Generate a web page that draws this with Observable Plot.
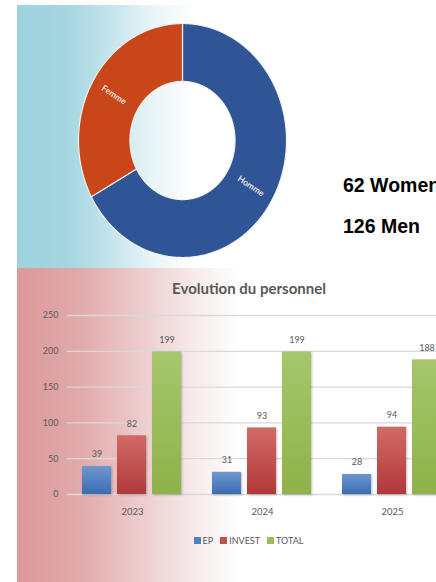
<!DOCTYPE html>
<html><head><meta charset="utf-8">
<script src="https://cdn.jsdelivr.net/npm/d3@7"></script>
<script src="https://cdn.jsdelivr.net/npm/@observablehq/plot@0.6"></script>
<style>
html,body{margin:0;padding:0;background:#fff;}
body{width:436px;height:582px;overflow:hidden;position:relative;font-family:Lato,"Open Sans",sans-serif;}
#top{position:absolute;left:17px;top:5px;width:419px;height:263px;
 background:linear-gradient(to right,#9ed2df 0%,#a6d6e1 12%,#c3e4ec 22%,#ebf6f8 33%,#ffffff 43%);}
#bottom{position:absolute;left:17px;top:268px;width:419px;height:314px;
 background:linear-gradient(to right,#dc999b 0%,#e1a9ab 15%,#edd0d1 31%,#f8ecec 43%,#ffffff 53%);}
.abs{position:absolute;}
#counts div{position:absolute;left:343px;font-family:"Liberation Sans",Arial,sans-serif;font-weight:bold;font-size:19.5px;color:#000;white-space:nowrap;line-height:1;}
#title{position:absolute;left:0;width:498px;text-align:center;top:281px;font-family:Lato,sans-serif;font-weight:bold;font-size:15px;line-height:1;color:#595959;}
#legend{position:absolute;left:0;width:504px;top:524px;display:flex;justify-content:center;}
#legend span{margin-right:7px !important;}
#legend span > svg{margin-right:2px !important;}
#bars svg, #donut svg{max-width:none !important;}
#bars rect{filter:drop-shadow(1px 1px 1px rgba(0,0,0,0.25));}
</style></head><body>
<div id="top"></div><div id="bottom"></div>
<div id="donut" class="abs" style="left:0;top:0"></div>
<div id="counts"></div>
<div id="title"></div>
<div id="bars" class="abs" style="left:0;top:268px;width:470px"></div>
<div id="legend"></div>
<script>
// ---- data ----
const genders = ["Homme", "Femme"];
const genderCounts = [126, 62];
const countLabels = ["62 Women", "126 Men"];
const chartTitle = "Evolution du personnel";
const years = ["2023", "2024", "2025"];
const seriesNames = ["EP", "INVEST", "TOTAL"];
const ep = [39, 31, 28];
const invest = [82, 93, 94];
const total = [199, 199, 188];
const yTicks = [0, 50, 100, 150, 200, 250];

// ---- donut ----
const pie = d3.pie().sort(null).value(d => d.count);
const arcs = pie(genders.map((g, i) => ({gender: g, count: genderCounts[i]})));
const inner = 0.505;
const ringPts = [];
for (const a of arcs) {
  const n = Math.max(2, Math.ceil((a.endAngle - a.startAngle) / 0.01));
  for (let k = 0; k <= n; k++) {
    const t = a.startAngle + (a.endAngle - a.startAngle) * k / n;
    ringPts.push({gender: a.data.gender, x: Math.sin(t), y: Math.cos(t)});
  }
  for (let k = n; k >= 0; k--) {
    const t = a.startAngle + (a.endAngle - a.startAngle) * k / n;
    ringPts.push({gender: a.data.gender, x: inner * Math.sin(t), y: inner * Math.cos(t)});
  }
}
const xR = [78, 286], yR = [257, 23];
const sx = (xR[1] - xR[0]) / 2, sy = (yR[0] - yR[1]) / 2;
const labelPts = arcs.map(a => {
  const m = (a.startAngle + a.endAngle) / 2, r = 0.765;
  const x = r * Math.sin(m), y = r * Math.cos(m);
  let rot = Math.atan2(-y * sy, x * sx) * 180 / Math.PI;
  if (rot > 90) rot -= 180; if (rot < -90) rot += 180;
  return {gender: a.data.gender, x, y, rot};
});
const donut = Plot.plot({
  width: 436, height: 268, margin: 0,
  style: {background: "transparent", overflow: "visible", maxWidth: "none"},
  x: {domain: [-1, 1], range: xR, axis: null},
  y: {domain: [-1, 1], range: yR, axis: null},
  color: {domain: ["Homme", "Femme"], range: ["#2f5597", "#c9461a"]},
  marks: [
    Plot.line(ringPts, {x: "x", y: "y", z: "gender", fill: "gender", stroke: "#f2f2f2", strokeWidth: 1.2, curve: "linear-closed"}),
    Plot.text(labelPts, {x: "x", y: "y", text: "gender", rotate: "rot", fill: "#fdf2ee", fontSize: 8.5, fontFamily: "Lato", fontWeight: 600})
  ]
});
document.getElementById("donut").append(donut);

const counts = document.getElementById("counts");
countLabels.forEach((t, i) => {
  const d = document.createElement("div");
  d.textContent = t;
  d.style.top = (i === 0 ? 176 : 217) + "px";
  counts.append(d);
});
document.getElementById("title").textContent = chartTitle;

// ---- bars ----
const seriesVals = {EP: ep, INVEST: invest, TOTAL: total};
const rows = years.flatMap((yr, i) => seriesNames.map(s => ({year: yr, series: s, value: seriesVals[s][i]})));
const grads = {EP: ["#6e97d0", "#3b6cb2"], INVEST: ["#d06b66", "#b2383a"], TOTAL: ["#a6c66b", "#8fb24b"]};
const flat = ["#4f81bd", "#c0504d", "#9bbb59"];
const bars = Plot.plot({
  width: 470, height: 314,
  marginLeft: 66, marginRight: 12, marginTop: 47, marginBottom: 88,
  style: {background: "transparent", color: "#595959", fontFamily: "Lato", maxWidth: "none"},
  fx: {domain: years, padding: 0, label: null},
  x: {domain: seriesNames, paddingInner: 0.167, paddingOuter: 0.39, axis: null},
  y: {domain: [0, 250], label: null},
  marks: [
    Plot.ruleY(yTicks, {stroke: "#d9d9d9", strokeWidth: 1.3}),
    Plot.axisY({ticks: yTicks, tickSize: 0, tickPadding: 9, fontSize: 9, fill: "#595959", label: null}),
    Plot.axisFx({anchor: "bottom", tickSize: 0, tickPadding: 14, fontSize: 9.5, fill: "#595959", label: null}),
    ...seriesNames.map(s => Plot.barY(rows.filter(r => r.series === s), {fx: "year", x: "series", y: "value", fill: `url(#grad-${s})`})),
    Plot.text(rows, {fx: "year", x: "series", y: "value", text: d => String(d.value), dy: -12, fontSize: 9, fill: "#595959"})
  ]
});
const defs = d3.create("svg:defs");
for (const s of seriesNames) {
  const g = defs.append("linearGradient").attr("id", `grad-${s}`).attr("x1", 0).attr("y1", 0).attr("x2", 0).attr("y2", 1);
  g.append("stop").attr("offset", "0%").attr("stop-color", grads[s][0]);
  g.append("stop").attr("offset", "100%").attr("stop-color", grads[s][1]);
}
bars.prepend(defs.node());
document.getElementById("bars").append(bars);

const legend = Plot.legend({
  color: {type: "ordinal", domain: seriesNames, range: flat},
  swatchSize: 7,
  style: {fontSize: "9px", fontFamily: "Lato", color: "#595959", background: "transparent"}
});
document.getElementById("legend").append(legend);
</script>
</body></html>
